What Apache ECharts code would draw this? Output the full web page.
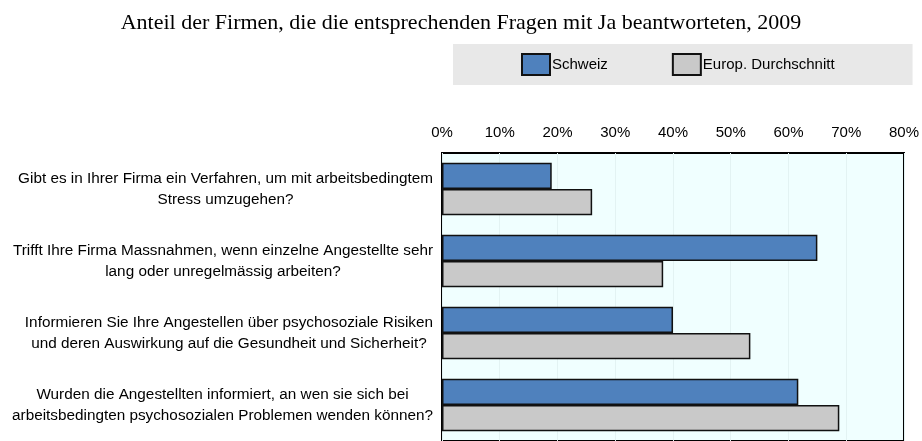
<!DOCTYPE html>
<html>
<head>
<meta charset="utf-8">
<script src="https://cdn.jsdelivr.net/npm/echarts@6/dist/echarts.min.js"></script>
<style>
  html, body { margin: 0; padding: 0; background: #fff; }
  #chart { width: 922px; height: 441px; }
</style>
</head>
<body>
<div id="chart"></div>
<script>
// questions, top to bottom
const questions = [
  'Gibt es in Ihrer Firma ein Verfahren, um mit arbeitsbedingtem\nStress umzugehen?',
  'Trifft Ihre Firma Massnahmen, wenn einzelne Angestellte sehr\nlang oder unregelmässig arbeiten?',
  'Informieren Sie Ihre Angestellen über psychosoziale Risiken\nund deren Auswirkung auf die Gesundheit und Sicherheit?',
  'Wurden die Angestellten informiert, an wen sie sich bei\narbeitsbedingten psychosozialen Problemen wenden können?'
]
const schweiz = [19, 65, 40, 61.7]
const europa = [26, 38.3, 53.4, 68.8]

const NARROW = "'Liberation Sans Narrow', 'Arial Narrow', 'Liberation Sans', sans-serif"
const BLUE = '#4F81BD'
const GREY = '#C9C9C9'

const chart = echarts.init(document.getElementById('chart'))
chart.setOption({
  animation: false,
  title: {
    text: 'Anteil der Firmen, die die entsprechenden Fragen mit Ja beantworteten, 2009',
    left: 'center',
    top: 7,
    textStyle: { fontFamily: "'Liberation Serif', serif", fontSize: 22, fontWeight: 'normal', color: '#000' }
  },
  legend: {
    left: 453,
    top: 44,
    padding: [9, 78, 9, 68],
    backgroundColor: '#E8E8E8',
    icon: 'rect',
    itemWidth: 28,
    itemHeight: 21,
    itemGap: 64,
    textStyle: { fontFamily: NARROW, fontSize: 15, color: '#000', padding: [0, 0, 0, -3] }
  },
  grid: {
    left: 442, top: 153, width: 464, height: 290,
    show: true, backgroundColor: '#F0FFFF', borderColor: '#000', borderWidth: 2
  },
  xAxis: {
    type: 'value', position: 'top', min: 0, max: 80, interval: 10,
    axisLine: { show: false }, axisTick: { show: false },
    axisLabel: { formatter: '{value}%', fontFamily: NARROW, fontSize: 15, color: '#000', margin: 13 },
    splitLine: { lineStyle: { color: '#E3F3F3', width: 1 } }
  },
  yAxis: {
    type: 'category', inverse: true, data: questions,
    axisLine: { show: false }, axisTick: { show: false },
    axisLabel: {
      margin: 9,
      formatter: v => v.split('\n').map(l => '{c|' + l + '}').join('\n'),
      rich: { c: { align: 'center', fontFamily: NARROW, fontSize: 15.3, lineHeight: 21, color: '#000' } }
    }
  },
  series: [
    { name: 'Schweiz', type: 'bar', data: schweiz, barGap: '0%', barCategoryGap: '27%',
      itemStyle: { color: BLUE, borderColor: '#111', borderWidth: 1.5 } },
    { name: 'Europ. Durchschnitt', type: 'bar', data: europa,
      itemStyle: { color: GREY, borderColor: '#111', borderWidth: 1.5 } }
  ]
})
</script>
</body>
</html>
